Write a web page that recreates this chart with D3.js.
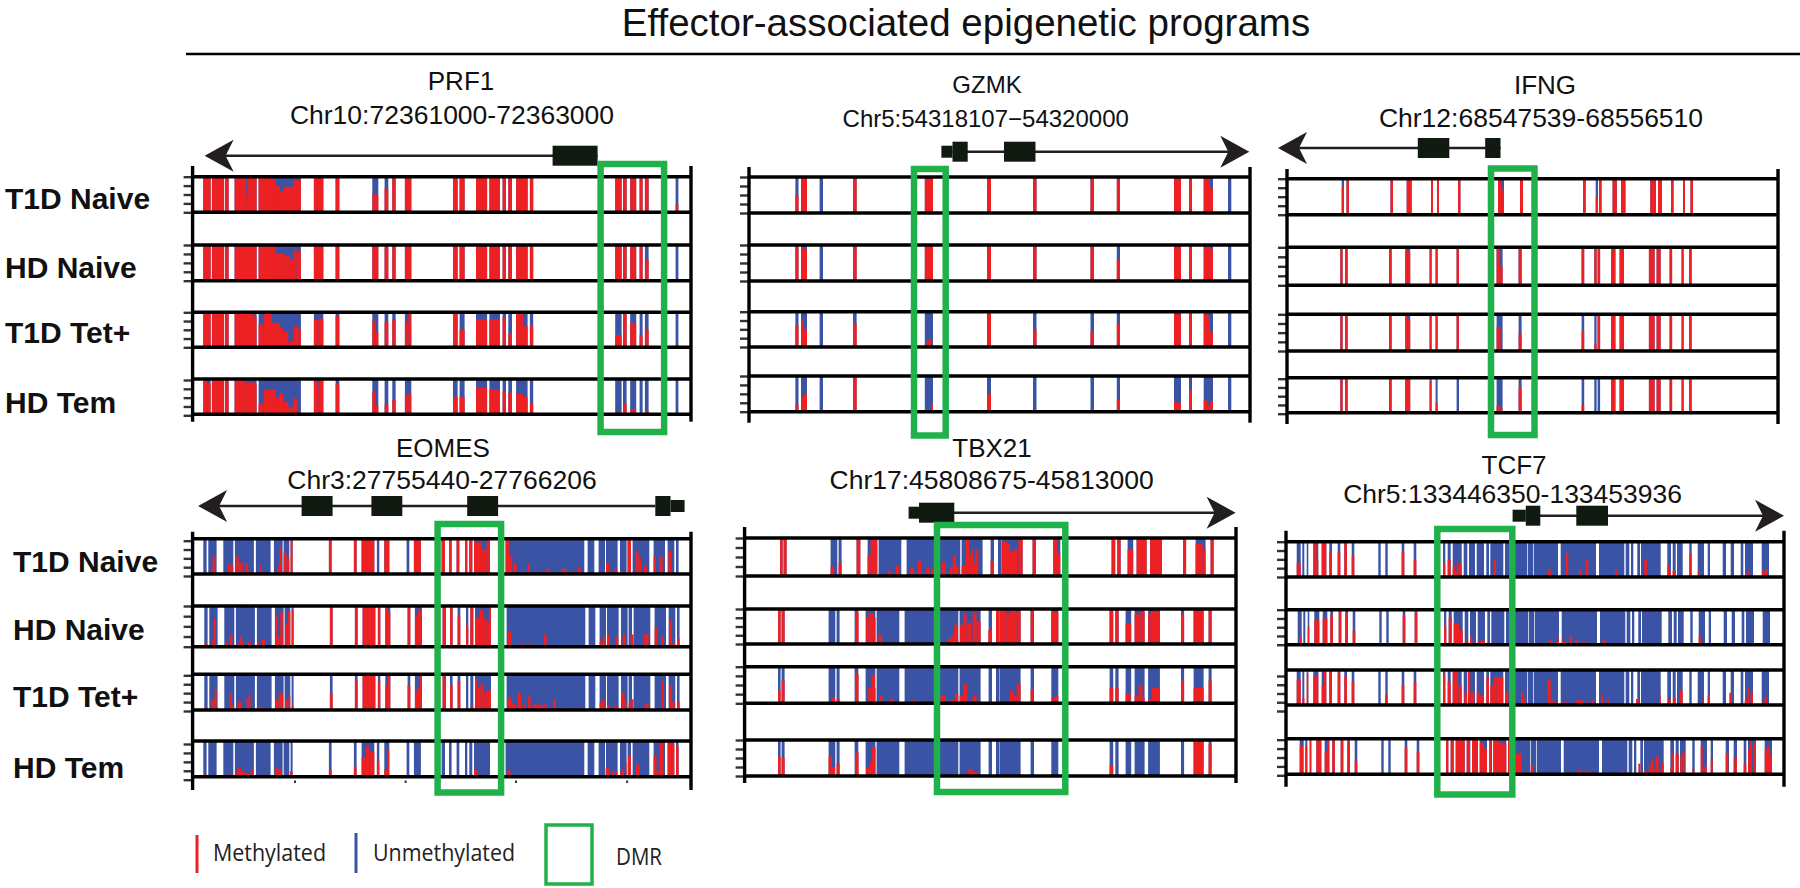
<!DOCTYPE html>
<html>
<head>
<meta charset="utf-8">
<script src="https://cdn.jsdelivr.net/npm/d3@7"></script>
<style>
  html, body { margin: 0; background: #fff; }
  text { font-family: "Liberation Sans", Arial, sans-serif; fill: #111; }
</style>
</head>
<body>
<script>
// positions below are track offsets along each gene window, methylation in percent
const rowNames = ["T1D Naive", "HD Naive", "T1D Tet+", "HD Tem"];
const legendLabels = ["Methylated", "Unmethylated", "DMR"];
const chartTitle = "Effector-associated epigenetic programs";
const percentTicks = [0, 25, 50, 75, 100];

// PRF1
const prf1Sites = [[10.7,18],[19.3,31.3],[32.3,36],[42,64],[66,108.3],[121.3,130.7],[143,146.7],[179.7,185.7],[192,195.7],[199.7,203],[212.3,218.7],[260.4,265],[267,272],[283.4,294.5],[296.8,307.4],[310,313.4],[315.7,319.4],[323.5,335],[337.3,340.6],[422.6,429],[430.4,434],[437.6,443.6],[447,450],[452.3,456],[483,485.8]];
const prf1T1dNaive = [[10.7,18,100],[19.3,31.3,100],[32.3,36,100],[42,53.5,100],[53.5,54.5,50],[54.5,64,100],[66,79,100],[79,83.3,94],[83.3,87.3,75],[87.3,90.7,60],[90.7,100.7,72],[100.7,108.3,90],[121.3,130.7,98],[143,146.7,100],[179.7,185.7,50],[192,195.7,67],[199.7,203,100],[212.3,218.7,100],[260.4,265,100],[267,272,100],[283.4,294.5,100],[296.8,307.4,100],[310,313.4,100],[315.7,319.4,100],[323.5,335,100],[337.3,340.6,95],[422.6,429,100],[430.4,434,100],[437.6,443.6,100],[447,450,100],[452.3,456,100],[483,485.8,22]];
const prf1HdNaive = [[10.7,18,100],[19.3,31.3,100],[32.3,36,95],[42,64,100],[66,83.3,100],[83.3,92.3,75],[92.3,97.3,70],[97.3,100.7,60],[100.7,104,88],[104,108.3,80],[121.3,130.7,100],[143,146.7,100],[179.7,185.7,100],[192,195.7,92],[199.7,203,100],[212.3,218.7,100],[260.4,265,100],[267,272,100],[283.4,294.5,100],[296.8,307.4,100],[310,313.4,100],[315.7,319.4,100],[323.5,335,98],[337.3,340.6,100],[422.6,429,100],[430.4,434,100],[437.6,443.6,100],[447,450,100],[452.3,456,60],[483,485.8,5]];
const prf1T1dTet = [[10.7,18,95],[19.3,31.3,98],[32.3,36,100],[42,60.7,100],[60.7,64,88],[66,71.3,65],[71.3,79,97],[79,87.3,70],[87.3,90.7,55],[90.7,95.7,45],[95.7,99,15],[99,101.3,20],[101.3,105.7,60],[105.7,108.3,50],[121.3,125.7,78],[125.7,130.7,82],[143,146.7,90],[179.7,183,76],[183,185.7,45],[192,195.7,72],[199.7,203,80],[212.3,215.7,72],[215.7,218.7,100],[260.4,265,100],[267,272,50],[283.4,294.5,80],[296.8,307.4,80],[310,313.4,85],[315.7,319.4,40],[323.5,330.4,95],[330.4,335,60],[337.3,340.6,62],[422.6,429,35],[430.4,434,95],[437.6,443.6,70],[447,450,35],[452.3,456,50],[483,485.8,5]];
const prf1HdTem = [[10.7,14.7,95],[14.7,18,88],[19.3,31.3,99],[32.3,36,98],[42,52.3,100],[52.3,62.3,90],[62.3,64,85],[66,71.3,30],[71.3,83.3,70],[83.3,86.7,48],[86.7,90.7,60],[90.7,95.7,35],[95.7,100.7,20],[100.7,104.7,45],[104.7,108.3,5],[121.3,125.7,100],[125.7,126.7,75],[126.7,130.7,100],[143,146.7,85],[179.7,183,65],[183,185.7,25],[192,195.7,28],[199.7,203,42],[212.3,215.7,55],[215.7,218.7,58],[260.4,265,50],[267,272,50],[283.4,294.5,75],[296.8,307.4,70],[310,313.4,65],[315.7,319.4,62],[323.5,330.4,58],[330.4,335,50],[337.3,340.6,30],[422.6,429,5],[430.4,434,30],[437.6,443.6,15],[447,450,3],[452.3,456,10],[483,485.8,3]];
const prf1Exons = [[360,405]];
const prf1Utrs = [];
const prf1Gene = [405, 12];
const prf1Dmr = [408, 471.5];

// GZMK
const gzmkSites = [[46.4,49.5],[52,58],[70.6,74],[104,107.6],[175.8,184],[238,242],[284,287.5],[341.5,345],[367.8,371],[425,432],[440,443],[454.7,464],[479,482.3]];
const gzmkT1dNaive = [[46.4,49.5,50],[52,58,100],[104,107.6,100],[175.8,184,100],[238,242,100],[284,287.5,100],[341.5,345,100],[367.8,371,95],[425,432,100],[440,443,100],[454.7,461,100],[461,464,70]];
const gzmkHdNaive = [[46.4,49.5,95],[52,55,95],[55,58,88],[104,107.6,100],[175.8,184,100],[238,242,100],[284,287.5,100],[341.5,345,100],[367.8,371,60],[425,432,100],[440,443,95],[454.7,458,95],[458,461,100],[461,464,90]];
const gzmkT1dTet = [[46.4,49.5,62],[52,55,75],[55,58,50],[104,107.6,68],[175.8,178,10],[178,182,22],[182,184,5],[238,242,100],[284,287.5,50],[341.5,345,42],[367.8,371,68],[425,428,98],[428,432,92],[440,443,100],[454.7,459,95],[459,461,85],[461,464,42]];
const gzmkHdTem = [[46.4,49.5,20],[52,55,40],[55,58,50],[104,107.6,100],[175.8,182,7],[182,184,22],[238,242,50],[367.8,371,33],[425,428,28],[428,432,25],[440,443,60],[454.7,458,32],[458,461,15],[461,464,28]];
const gzmkExons = [[203.5,218.7],[255,286.5]];
const gzmkUtrs = [[192.4,203.5]];
const gzmkGene = [203.5, 500.3];
const gzmkDmr = [165, 196.7];

// IFNG
const ifngSites = [[54.7,57],[59.5,62],[103.5,106],[119.7,124.6],[144,146],[150,152],[171,173.4],[211,217],[233,236],[296,298.6],[308.7,311],[312,314.5],[325.6,329.8],[334,338.4],[363.3,369],[371,375],[384,386.5],[396,398],[403.5,406]];
const ifngT1dNaive = [[54.7,57,78],[59.5,62,100],[103.5,106,100],[119.7,124.6,100],[144,146,100],[150,152,100],[171,173.4,100],[211,214.5,100],[214.5,217,68],[233,236,100],[296,298.6,100],[308.7,311,48],[312,314.5,100],[325.6,329.8,100],[334,338.4,100],[363.3,369,100],[371,375,100],[384,386.5,100],[396,398,100],[403.5,406,100]];
const ifngHdNaive = [[54.7,57,100],[59.5,62,100],[103.5,106,100],[119.7,122,100],[122,124.6,88],[144,146,100],[150,152,100],[171,173.4,100],[211,214.5,100],[214.5,217,50],[233,236,100],[296,298.6,100],[308.7,311,100],[312,314.5,100],[325.6,329.8,100],[334,338.4,100],[363.3,369,100],[371,375,100],[384,386.5,100],[396,398,100],[403.5,406,100]];
const ifngT1dTet = [[54.7,57,100],[59.5,62,100],[103.5,106,100],[119.7,122,100],[122,124.6,85],[144,146,100],[150,152,100],[171,173.4,100],[211,215,65],[233,236,48],[296,298.6,55],[308.7,311,18],[312,314.5,100],[325.6,329.8,100],[334,338.4,100],[363.3,369,100],[371,375,100],[384,386.5,100],[396,398,100],[403.5,406,100]];
const ifngHdTem = [[54.7,57,100],[59.5,62,95],[103.5,106,100],[119.7,124.6,100],[144,146,90],[150,152,28],[211,214.5,20],[214.5,217,12],[233,236,72],[296,298.6,20],[325.6,329.8,100],[334,338.4,100],[363.3,369,100],[371,375,100],[384,386.5,100],[396,398,100],[403.5,406,100]];
const ifngExons = [[130.8,162.3],[198.2,213.5]];
const ifngUtrs = [];
const ifngGene = [213.5, -9];
const ifngDmr = [204, 247.5];

// EOMES
const eomesSites = [[10.7,14],[15.7,24],[30.7,40.7],[42.3,61.3],[63.3,78],[81.3,90],[91,96.7],[98,100],[136.3,139],[161.3,164],[169,181.7],[184.3,186.7],[191.7,196.7],[214,216.7],[221.3,228.3],[249,252.4],[256.4,259],[264,266.7],[272.4,274.7],[276.7,279.7],[281.4,297.4],[313,391.7],[395,401.7],[406,412.4],[413.4,425],[427.4,434],[435,438.4],[440,456.7],[461,472.4],[475,481.7],[483.4,486]];
const eomesT1dNaive = [[18.3,20,18],[20,22.3,50],[35,38,28],[38,40.7,22],[43,46,50],[46,50,33],[52.3,55,30],[55,56.7,15],[66.7,69.3,22],[84.7,86.7,22],[86.7,88.7,75],[91,94,60],[94,96.7,45],[98,100,100],[136.3,139,100],[161.3,164,100],[169,181.7,100],[191.7,196.7,100],[221.3,228.3,100],[249,252.4,100],[256.4,259,100],[264,266.7,100],[272.4,274.7,100],[276.7,279.7,100],[281.4,289,90],[289,294,70],[294,297.4,100],[313,316.4,100],[316.4,319.7,50],[320.7,324,30],[330,333.4,8],[334.7,337.4,30],[353.4,356,15],[368.4,373.4,15],[373.4,376.7,7],[379,382.4,7],[385,388,20],[413.4,416.4,30],[421.7,425,12],[428.4,431.7,7],[435,438.4,100],[443,446,66],[446,448.4,48],[451,454.4,22],[461,463.4,50],[466.4,470,50],[475.7,478.4,66]];
const eomesHdNaive = [[10.7,13.7,7],[18.3,20.3,15],[20.3,22.3,70],[31.7,34,12],[36,38.7,30],[38.7,40.7,5],[44,46.3,8],[46.3,48.3,25],[48.3,50.3,12],[53.7,57,12],[63.7,65.7,12],[68.3,71.3,18],[81.7,84,75],[84,86.7,22],[86.7,89.3,85],[91.7,94.3,55],[94.3,96.7,85],[98,100,92],[136.3,139,100],[161.3,164,100],[169,181.7,100],[184.3,186.7,100],[191.7,194.3,100],[194.3,196.7,85],[214,216.7,100],[221.3,224,75],[224,228.3,90],[249,252.4,100],[256.4,259,100],[264,266.7,75],[272.4,274.7,50],[276.7,279.7,100],[281.4,286,72],[286,289.7,90],[289.7,293,70],[293,295.4,60],[295.4,297.4,100],[314.4,317.7,37],[320,330,3],[327,330,8],[335,338.4,6],[350.4,353,30],[359,362,3],[406,409,12],[409,412,25],[413.4,416,30],[422,424.7,25],[429,432,30],[437,440,30],[450,455,30],[461,463.4,47],[467.7,470,25],[475.7,478.4,65],[478.4,481.7,8],[483.4,486,20]];
const eomesT1dTet = [[10.7,13.7,7],[17.7,21,30],[21,23,58],[23,24,8],[35.7,38,48],[38,40,12],[44,48,22],[53,55,35],[55,57,43],[63.3,70,8],[70,74,5],[81.7,85,30],[85,89.3,48],[91.7,95,28],[95,96.7,40],[98,100,10],[136.3,139,48],[161.3,164,82],[169,181.7,97],[184.3,186.7,82],[191.7,194,68],[194,196.7,100],[214,216.7,68],[221.3,223.7,50],[223.7,226,65],[226,228.3,100],[249,252.4,100],[256.4,259,70],[264,266.7,80],[276.7,279.7,10],[281.4,284,85],[284,287,65],[287,289.7,75],[289.7,293,50],[293,297.4,55],[314.4,317.7,34],[317.7,321,20],[321,324,10],[324,327.4,48],[327.4,329.4,10],[330,332,15],[334.4,337,38],[339,348.4,15],[349,354,15],[359.4,362.4,30],[365,367,5],[368,370.4,7],[386.4,389,7],[406,408,20],[408,411,30],[413.4,416,12],[420,422,12],[423,425,12],[428.4,431,48],[431,433,25],[435,437,15],[437,440,30],[451,455,20],[461,463.4,3],[467.7,470,82],[470,472.4,5],[475.7,478.4,70],[478.4,481,22],[483.4,486,22]];
const eomesHdTem = [[11.7,14,7],[21,24,3],[34.7,40.7,6],[43.3,45,8],[45,48.3,25],[48.3,52.3,15],[52.3,56.7,10],[58.3,61,20],[63.3,77,5],[82.3,84.7,28],[84.7,88.3,22],[97.3,99.7,15],[136.3,139,18],[161.3,164,28],[169,173,55],[173,177,85],[177,181.7,70],[184.3,186.7,45],[191.7,194.7,20],[194.7,196.7,75],[281.4,285,18],[285,290.7,5],[294,296.5,3],[314.7,318,18],[318,321,5],[327,330,3],[369,372.4,4],[413,416.4,24],[419,421.7,16],[422.4,425,12],[427.7,431,18],[433,434,40],[435.4,438.4,58],[443,446.7,34],[461,464,58],[464,466.7,16],[466.7,470.7,100],[475,479,98],[479,481.7,92],[483.4,486,85]];
const eomesExons = [[109,140],[178.8,209.7],[274.6,305.5],[462.7,477.9]];
const eomesUtrs = [[477.9,492]];
const eomesGene = [462.7, 5.5];
const eomesDmr = [245, 308.5];
const eomesMarks = [102.4, 213, 323.4, 434.5];

// TBX21
const tbx21Sites = [[35.4,38],[39,42],[86,92.7],[94,97],[112,115.7],[123,132.7],[134,156.7],[162,215.7],[217,238],[246,249.4],[253.4,256.7],[257,278],[288,291.4],[308.7,315.7],[367,370.6],[372.7,376],[383,388.6],[392,402],[405.5,417.3],[438.4,441.5],[451,461],[466,469]];
const tbx21T1dNaive = [[35.4,38,100],[39,42,100],[86,89.7,25],[94,97,35],[112,115.7,100],[123,126,55],[126,132.7,100],[142.7,146,14],[151.4,154.7,26],[165.7,169,22],[173,176.4,40],[181.7,185,22],[187,189.4,20],[197,201,36],[204.7,208,22],[208,211.4,53],[211.4,214,26],[217,221,28],[221,224.7,100],[224.7,226.4,55],[226.4,229,70],[229,230.4,35],[230.4,233.7,68],[246,249.4,40],[257,262.4,90],[262.4,265.4,85],[265.4,269,63],[269,272.7,70],[273.7,278,100],[288,291.4,100],[308.7,313,100],[313,315.7,60],[367,370.6,100],[372.7,376,100],[383,388.6,70],[392,402,95],[405.5,417.3,100],[438.4,441.5,100],[451,458,85],[458,461,70],[466,469,100]];
const tbx21HdNaive = [[35.4,38,100],[39,42,100],[112.4,116,92],[123.4,125.7,75],[125.7,130.7,88],[130.7,133,75],[135.7,139.4,27],[144,148,3],[165,190,2],[205,208.4,15],[208.4,211.4,24],[211.4,214.7,55],[214.7,215.7,14],[217.4,220.7,55],[220.7,224,88],[224,229,60],[230,234,90],[234,238,63],[245.7,249.4,40],[253.4,256.7,100],[257,264,98],[264,267,85],[267,274,95],[274,278,92],[288,291,100],[308.7,315.7,92],[367,370.6,100],[372.7,376,100],[383,388.6,60],[392,398,85],[398,402,92],[405.5,408,85],[408,417.3,92],[438.4,441.5,85],[451,461,96],[466,469,100]];
const tbx21T1dTet = [[35.4,38,35],[39,42,62],[89,92.4,15],[94,97,12],[112.4,116,80],[125.7,129,42],[129,132.4,78],[132.4,133,42],[136.7,139.7,20],[147.4,151.7,12],[169.4,172.7,8],[174,176.4,4],[198,203,22],[208,212.4,10],[212.4,215.7,28],[217,220.4,20],[220.7,224.7,52],[230,234,20],[245.7,249,5],[267.4,270.7,35],[270.7,274,20],[274,278,52],[288,291,38],[309,312.4,15],[312.4,315.7,22],[367,370.6,42],[372.7,376,42],[383,388,28],[392,396,20],[396,400,50],[400,402,15],[405.5,409,10],[409,417.3,42],[438.4,441.5,62],[451,461,42],[466,469,62]];
const tbx21HdTem = [[35.4,38,55],[39,42,50],[86,89.4,55],[89.4,92.4,25],[94,97,35],[112.4,116,65],[123.4,127.4,22],[127.4,129.4,38],[129.4,133,80],[225.7,230,20],[230,234.7,12],[367,370.6,30],[372.7,376,3],[405.5,408,2],[451,461,98],[466,469,88]];
const tbx21Exons = [[174.4,209.7]];
const tbx21Utrs = [[164,174.4]];
const tbx21Gene = [174.4, 491];
const tbx21Dmr = [192.4, 320.7];

// TCF7
const tcf7Sites = [[10.7,14.7],[16.3,18.3],[20.7,22.3],[27.3,32.3],[35.7,40.3],[43.3,46],[51.7,54.3],[58.3,61],[65.7,68.3],[92.3,94.7],[99.3,101.7],[115.7,118.3],[127.7,130.3],[157,159.3],[161.7,164.7],[166.7,175.7],[177.7,181.3],[183,189],[190.7,198],[200.3,203],[204.3,217.3],[219,241],[241.7,247.3],[248,272],[274.7,310],[313,338.3],[339.7,343.3],[345,347.3],[351.3,354],[355,374.7],[381.3,385],[386.7,389.7],[391,396.7],[403.3,405.7],[411.7,418],[421.7,424],[436.7,440],[444.7,448],[454.7,457.3],[459,467],[475.7,483]];
const tcf7T1dNaive = [[10.7,14.7,40],[27.3,30.7,100],[30.7,32.3,50],[35.7,40.3,100],[43.3,46,70],[51.7,54.3,70],[58.3,61,100],[65.7,68.3,60],[115.7,118.3,72],[127.7,130.3,50],[157,159.3,40],[161.7,164.7,50],[166.7,169,30],[169,170.7,15],[170.7,172.3,45],[172.3,175.7,38],[207.3,210,50],[262,264.7,22],[279.7,282.3,68],[293,295.7,22],[299.7,302.3,50],[329.3,331.7,22],[358.3,361,50],[381.3,384,32],[384,385,17],[386.7,389.7,17],[403.3,405.7,68],[411.7,414,15],[460.7,463,14],[476,478.7,17],[478.7,481.3,22]];
const tcf7HdNaive = [[12,14.7,23],[20.7,22.3,52],[27.3,32.3,70],[35.7,40.3,75],[43.3,46,85],[51.7,54.3,98],[58.3,61,90],[65.7,68.3,40],[115.7,118.3,82],[127.7,130.3,92],[157,159.3,52],[161.7,164.7,77],[166.7,172,60],[172.3,175.7,42],[178.7,181.3,8],[183,185.3,23],[190.7,194,8],[194,198,12],[204.3,207,6],[239,241,3],[262,264.7,15],[268,270.7,8],[271,272,23],[274.7,276,10],[276.7,279.3,10],[282.3,285.3,23],[288.3,291,12],[293,300,6],[315.7,318,14],[382,385,5],[411.7,414.3,23],[460,462,2],[477,479,4]];
const tcf7T1dTet = [[10.7,14.7,72],[16.3,18.3,20],[20.7,22.3,90],[27.3,31,82],[31,32.3,100],[35.7,38,55],[38,40.3,100],[43.3,46,100],[51.7,54.3,92],[58.3,61,82],[65.7,68.3,67],[99.3,101.7,30],[115.7,118.3,55],[127.7,130.3,65],[157,159.3,90],[161.7,164.7,65],[166.7,172,100],[172.3,175.7,55],[178.3,181,36],[182,184.3,100],[184.3,188.3,36],[190.7,194,36],[194,198,28],[200.3,203,77],[204.3,207.3,54],[207.3,210.7,80],[210.7,217.3,80],[219,222.3,38],[235,237.3,36],[237.3,240,18],[262,264.7,72],[264.7,266.7,14],[268,270.7,8],[275.7,278,8],[279.7,282.3,8],[290,297.3,13],[299,301.3,8],[305.3,308,16],[315,317.3,30],[321.3,323.3,14],[350,352.7,17],[373,374.7,27],[381.7,385,15],[387.3,389.7,20],[393.3,396.7,42],[416,418,10],[421.7,424,27],[443.3,446,35],[447.7,448,45],[458.7,461.3,15],[461.3,463.3,52],[464.7,467,35],[476.3,478.7,8],[478.7,481,24]];
const tcf7HdTem = [[10.7,14,80],[16.3,18.3,80],[20.7,22.3,100],[27.3,32.3,100],[35.7,38,64],[38,40.3,95],[43.3,46,95],[51.7,54.3,97],[58.3,61,90],[65.7,68.3,38],[115.7,118.3,76],[127.7,130.3,64],[157,159.3,100],[161.7,164.7,96],[166.7,175.7,100],[177.7,181,100],[183,188.3,98],[188.3,189,92],[190.7,192,92],[192,195,85],[195,198,72],[200.3,202.3,92],[204.3,211,96],[211,214.3,88],[214.3,217.3,85],[219,224,98],[224,232.6,60],[235,238,5],[241.7,244.3,25],[289,291.7,12],[295.7,298,10],[300.7,303.3,6],[332.3,335,10],[338,338.3,6],[339.7,340.7,6],[349.3,351.3,30],[355,359,10],[359.7,361.7,25],[361.7,364,42],[364,366.7,15],[366.7,369.7,50],[369.7,372.3,10],[372.3,374.7,33],[381.3,382.3,16],[382.3,384.7,57],[386.7,389.7,57],[391.3,393.3,50],[393.3,395.7,65],[403.3,405.3,16],[411.7,413.7,80],[413.7,415.7,17],[415.7,418,25],[421.7,423.7,45],[436.7,439.4,60],[444.7,445.7,45],[446.7,448,50],[454.7,457.3,28],[459,460.7,70],[460.7,463,95],[464.4,466.7,88],[475.7,478,70],[478,481,80],[481,483,55]];
const tcf7Exons = [[239.8,254.3],[290.3,322]];
const tcf7Utrs = [[226.6,239.8]];
const tcf7Gene = [239.8, 498];
const tcf7Dmr = [151.3, 226.3];

const colors = { red: "#ed2024", blue: "#3a53a4", green: "#21b14b", dark: "#111a11" };

main();

function main() {
  const width = 1800;
  const height = 888;

  const svg = d3.select("body").append("svg")
    .attr("width", width)
    .attr("height", height)
    .style("display", "block");

  svg.append("text")
    .attr("x", 966).attr("y", 36)
    .attr("text-anchor", "middle")
    .style("font-size", "38.5px")
    .text(chartTitle);
  svg.append("line")
    .attr("x1", 186).attr("x2", 1800)
    .attr("y1", 54).attr("y2", 54)
    .attr("stroke", "#000").attr("stroke-width", 2.5);

  const panels = [
    { name: "PRF1", region: "Chr10:72361000-72363000", sites: prf1Sites,
      rows: [prf1T1dNaive, prf1HdNaive, prf1T1dTet, prf1HdTem],
      exons: prf1Exons, utrs: prf1Utrs, gene: prf1Gene, dmr: prf1Dmr,
      left: 192.6, right: 691, span: 498.4,
      tops: [176.7, 245, 312.3, 379], bottoms: [212.3, 280.7, 347.3, 414.3],
      axisY: [166, 421.7], geneY: 155.7, dmrY: [164, 432], shift: [0, 0, 0, 0], tickShift: [0, 0, 0, 1],
      nameX: 461, nameY: 90, regionX: 452, regionY: 124, nameSize: 26, regionSize: 26.5 },
    { name: "GZMK", region: "Chr5:54318107\u221254320000", sites: gzmkSites,
      rows: [gzmkT1dNaive, gzmkHdNaive, gzmkT1dTet, gzmkHdTem],
      exons: gzmkExons, utrs: gzmkUtrs, gene: gzmkGene, dmr: gzmkDmr,
      left: 749, right: 1250, span: 501,
      tops: [177, 245, 311.7, 376], bottoms: [213, 281, 347, 411.7],
      axisY: [167, 422.7], geneY: 151.7, dmrY: [169, 435.5], shift: [0, 0, 0, 0], tickShift: [0, 0, 0, 0],
      nameX: 987, nameY: 93, regionX: 985.7, regionY: 127, nameSize: 24, regionSize: 24 },
    { name: "IFNG", region: "Chr12:68547539-68556510", sites: ifngSites,
      rows: [ifngT1dNaive, ifngHdNaive, ifngT1dTet, ifngHdTem],
      exons: ifngExons, utrs: ifngUtrs, gene: ifngGene, dmr: ifngDmr,
      left: 1287, right: 1778, span: 491,
      tops: [178.7, 247.3, 314.3, 377.7], bottoms: [214.7, 285.3, 351, 412.7],
      axisY: [169, 424], geneY: 148, dmrY: [168.5, 435], shift: [0, -1.4, -1.4, -1.4], tickShift: [0, 0, 0, 1],
      nameX: 1545, nameY: 94, regionX: 1541, regionY: 127, nameSize: 26, regionSize: 26.5 },
    { name: "EOMES", region: "Chr3:27755440-27766206", sites: eomesSites,
      rows: [eomesT1dNaive, eomesHdNaive, eomesT1dTet, eomesHdTem],
      exons: eomesExons, utrs: eomesUtrs, gene: eomesGene, dmr: eomesDmr, marks: eomesMarks,
      left: 192.6, right: 691, span: 498.4,
      tops: [538.7, 606, 674.3, 741], bottoms: [574, 646.7, 710, 776.7],
      axisY: [531.7, 790], geneY: 506, dmrY: [524, 792.5], shift: [0, 1, 1, 0], tickShift: [2, 0, 1, 3],
      nameX: 443, nameY: 457, regionX: 442, regionY: 489, nameSize: 26, regionSize: 26.5 },
    { name: "TBX21", region: "Chr17:45808675-45813000", sites: tbx21Sites,
      rows: [tbx21T1dNaive, tbx21HdNaive, tbx21T1dTet, tbx21HdTem],
      exons: tbx21Exons, utrs: tbx21Utrs, gene: tbx21Gene, dmr: tbx21Dmr,
      left: 744.6, right: 1236, span: 491.4,
      tops: [538, 609, 666.7, 740], bottoms: [576, 644, 703.3, 776],
      axisY: [527, 783], geneY: 512.7, dmrY: [525, 792], shift: [0, -2, -2, -2], tickShift: [0, 0, 0, 0],
      nameX: 992, nameY: 457, regionX: 991.6, regionY: 489, nameSize: 26, regionSize: 26.5 },
    { name: "TCF7", region: "Chr5:133446350-133453936", sites: tcf7Sites,
      rows: [tcf7T1dNaive, tcf7HdNaive, tcf7T1dTet, tcf7HdTem],
      exons: tcf7Exons, utrs: tcf7Utrs, gene: tcf7Gene, dmr: tcf7Dmr,
      left: 1286, right: 1784, span: 498,
      tops: [541.7, 609.7, 670, 738.7], bottoms: [577, 644.7, 705, 774.3],
      axisY: [530.7, 786.7], geneY: 515.7, dmrY: [529, 794.5], shift: [0, 1, 0, 3], tickShift: [0, 0, 6, 1],
      nameX: 1514, nameY: 474, regionX: 1512.6, regionY: 503, nameSize: 26, regionSize: 26.5 }
  ];

  panels.forEach(p => drawPanel(svg, p));

  const labelY = [[198, 266.7, 331.7, 402], [560.7, 629.3, 696, 767]];
  const labelX = [5, 13];
  labelY.forEach((ys, k) => {
    svg.selectAll(null).data(rowNames).join("text")
      .attr("x", labelX[k])
      .attr("y", (d, i) => ys[i])
      .attr("dy", "0.36em")
      .style("font-size", "30px")
      .style("font-weight", "bold")
      .text(d => d);
  });

  drawLegend(svg);
}

function drawPanel(svg, p) {
  const g = svg.append("g").attr("class", "panel");
  const x = d3.scaleLinear().domain([0, p.span]).range([p.left, p.right]);

  g.append("text")
    .attr("x", p.nameX).attr("y", p.nameY)
    .attr("text-anchor", "middle")
    .style("font-size", p.nameSize + "px")
    .text(p.name);
  g.append("text")
    .attr("x", p.regionX).attr("y", p.regionY)
    .attr("text-anchor", "middle")
    .style("font-size", p.regionSize + "px")
    .text(p.region);

  p.rows.forEach((peaks, i) => {
    const y = d3.scaleLinear().domain([0, 100]).range([p.bottoms[i], p.tops[i]]);
    const row = g.append("g").attr("transform", `translate(${p.shift[i]},0)`);

    row.selectAll("rect.site").data(p.sites).join("rect")
      .attr("class", "site")
      .attr("x", d => x(d[0]))
      .attr("width", d => x(d[1]) - x(d[0]))
      .attr("y", y(100))
      .attr("height", y(0) - y(100))
      .attr("fill", colors.blue);

    row.selectAll("rect.peak").data(peaks).join("rect")
      .attr("class", "peak")
      .attr("x", d => x(d[0]))
      .attr("width", d => x(d[1]) - x(d[0]))
      .attr("y", d => y(d[2]))
      .attr("height", d => y(0) - y(d[2]))
      .attr("fill", colors.red);

    [p.tops[i], p.bottoms[i]].forEach(v => {
      g.append("line")
        .attr("x1", p.left).attr("x2", p.right)
        .attr("y1", v).attr("y2", v)
        .attr("stroke", "#000").attr("stroke-width", 3.4);
    });

    const axis = d3.axisLeft(y).tickValues(percentTicks).tickFormat("").tickSize(9).tickSizeOuter(0);
    g.append("g")
      .attr("transform", `translate(${p.left},${p.tickShift[i]})`)
      .call(axis)
      .call(s => s.select(".domain").remove())
      .call(s => s.selectAll("line").attr("stroke", "#333").attr("stroke-width", 2.4));
  });

  [p.left, p.right].forEach(v => {
    g.append("line")
      .attr("x1", v).attr("x2", v)
      .attr("y1", p.axisY[0]).attr("y2", p.axisY[1])
      .attr("stroke", "#000").attr("stroke-width", 3.4);
  });

  if (p.marks) {
    g.selectAll("rect.mark").data(p.marks).join("rect")
      .attr("class", "mark")
      .attr("x", d => x(d) - 1)
      .attr("y", p.axisY[1] - 9.5)
      .attr("width", 2).attr("height", 2.5)
      .attr("fill", "#333");
  }

  drawGene(g, p, x);

  g.append("rect")
    .attr("x", x(p.dmr[0]))
    .attr("y", p.dmrY[0])
    .attr("width", x(p.dmr[1]) - x(p.dmr[0]))
    .attr("height", p.dmrY[1] - p.dmrY[0])
    .attr("fill", "none")
    .attr("stroke", colors.green)
    .attr("stroke-width", 6.5);
}

function drawGene(g, p, x) {
  const tip = x(p.gene[1]);
  const dir = p.gene[1] > p.gene[0] ? 1 : -1;

  g.append("line")
    .attr("x1", x(p.gene[0])).attr("x2", tip - dir * 10)
    .attr("y1", p.geneY).attr("y2", p.geneY)
    .attr("stroke", "#231f20").attr("stroke-width", 2.6);

  const head = d3.path();
  head.moveTo(tip, p.geneY);
  head.lineTo(tip - dir * 29, p.geneY - 16);
  head.lineTo(tip - dir * 21, p.geneY);
  head.lineTo(tip - dir * 29, p.geneY + 16);
  head.closePath();
  g.append("path").attr("d", head.toString()).attr("fill", "#231f20");

  g.selectAll("rect.utr").data(p.utrs).join("rect")
    .attr("class", "utr")
    .attr("x", d => x(d[0]))
    .attr("width", d => x(d[1]) - x(d[0]))
    .attr("y", p.geneY - 6)
    .attr("height", 12)
    .attr("fill", colors.dark);

  g.selectAll("rect.exon").data(p.exons).join("rect")
    .attr("class", "exon")
    .attr("x", d => x(d[0]))
    .attr("width", d => x(d[1]) - x(d[0]))
    .attr("y", p.geneY - 10)
    .attr("height", 20)
    .attr("fill", colors.dark);
}

function drawLegend(svg) {
  const g = svg.append("g").attr("class", "legend");
  [[197, 835, 873, colors.red], [356, 833, 873, colors.blue]].forEach(d => {
    g.append("line")
      .attr("x1", d[0]).attr("x2", d[0])
      .attr("y1", d[1]).attr("y2", d[2])
      .attr("stroke", d[3]).attr("stroke-width", 3);
  });
  g.append("rect")
    .attr("x", 546).attr("y", 825)
    .attr("width", 46).attr("height", 59)
    .attr("fill", "none")
    .attr("stroke", colors.green)
    .attr("stroke-width", 3.5);

  const pos = [[213, 861, 113], [373, 861, 142], [616, 865, 46]];
  g.selectAll("text").data(legendLabels).join("text")
    .attr("x", (d, i) => pos[i][0])
    .attr("y", (d, i) => pos[i][1])
    .attr("textLength", (d, i) => pos[i][2])
    .attr("lengthAdjust", "spacingAndGlyphs")
    .style("font-family", "'Open Sans', sans-serif")
    .style("font-size", "24px")
    .style("fill", "#222")
    .text(d => d);
}
</script>
</body>
</html>
